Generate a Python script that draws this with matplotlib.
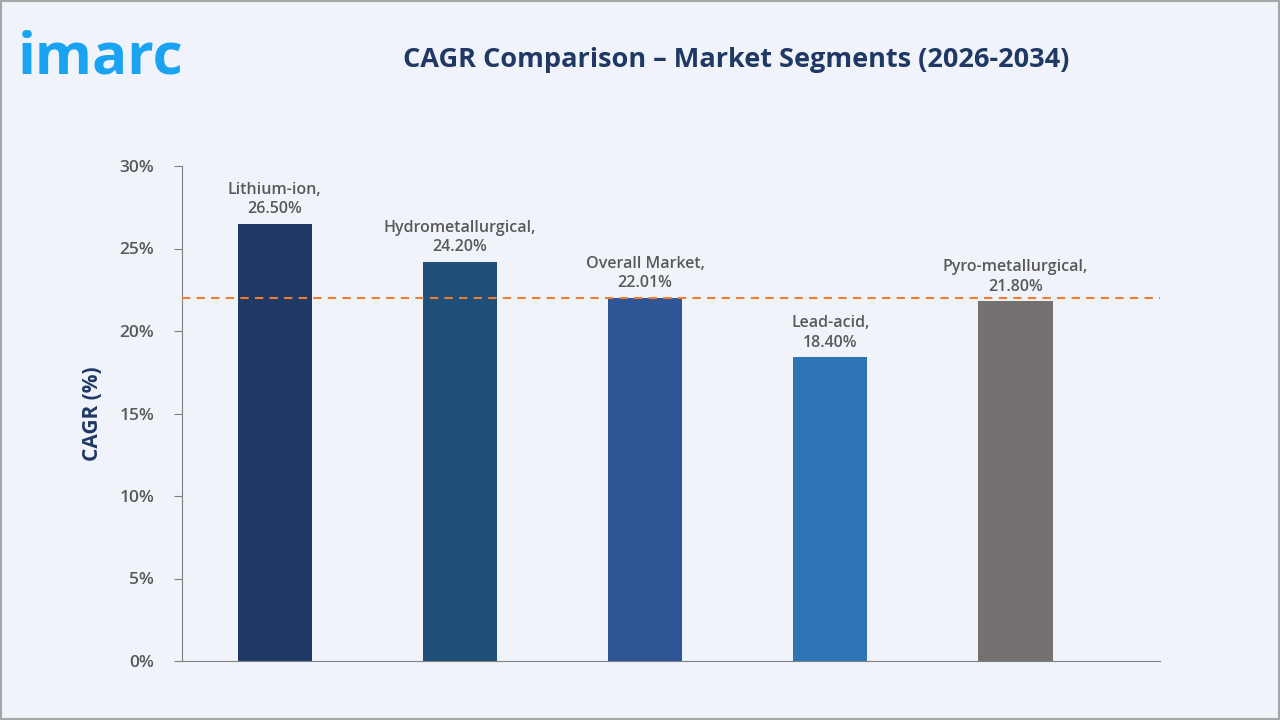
import matplotlib
matplotlib.use("Agg")
import matplotlib.pyplot as plt
from matplotlib.patches import Rectangle

categories = ["Lithium-ion", "Hydrometallurgical", "Overall Market", "Lead-acid", "Pyro-metallurgical"]
values = [26.50, 24.20, 22.01, 18.40, 21.80]
colors = ["#1f3864", "#1f4e79", "#2f5597", "#2e75b6", "#767171"]
ref_line = 22.01

plt.rcParams['font.family'] = ['Open Sans', 'DejaVu Sans']
fig = plt.figure(figsize=(12.8, 7.2), dpi=100)
fig.patch.set_facecolor("#f0f4fa")
fig.add_artist(Rectangle((0, 0), 1, 1, transform=fig.transFigure, fill=False, ec="#a6a6a6", lw=3))
ax = fig.add_axes([182/1280, 1-661/720, (1160-182)/1280, (661-166)/720])
ax.set_facecolor("#f0f4fa")
x = list(range(len(categories)))
ax.bar(x, values, width=0.4, color=colors, zorder=2)
ax.axhline(ref_line, color="#ed7d31", ls=(0, (4, 3)), lw=1.5, zorder=3)
for xi, v, c in zip(x, values, categories):
    ax.text(xi, v + 0.4, f"{c},\n{v:.2f}%", ha="center", va="bottom", fontsize=11.5, color="#595959",
            linespacing=1.3, fontweight="semibold")
ax.set_xlim(-0.5, 4.78)
ax.set_ylim(0, 30)
ax.set_yticks([0, 5, 10, 15, 20, 25, 30])
ax.set_yticklabels([f"{t}%" for t in [0, 5, 10, 15, 20, 25, 30]], fontsize=12.5, color="#595959",
                   fontweight="semibold")
ax.set_xticks([])
for s in ["top", "right"]:
    ax.spines[s].set_visible(False)
ax.spines["left"].set_color("#808080")
ax.spines["bottom"].set_color("#808080")
ax.tick_params(axis="y", color="#808080", length=6, pad=14)
ax.set_ylabel("CAGR (%)", fontsize=15, fontweight="bold", color="#1f3864", labelpad=12)
fig.text(736/1280, 1-60/720, "CAGR Comparison – Market Segments (2026-2034)", ha="center", va="center",
         fontsize=19.5, fontweight="bold", color="#1f3864")
fig.text(18/1280, 1-58/720, "imarc", ha="left", va="center", fontsize=42, fontweight="bold", color="#1aa3f0")
fig.savefig("out.png", dpi=100, facecolor=fig.get_facecolor())
